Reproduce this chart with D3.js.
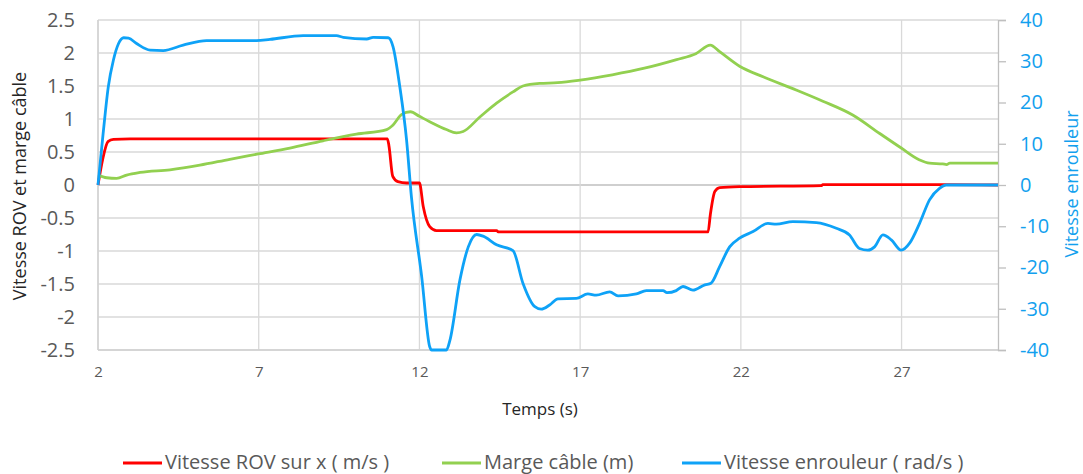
<!DOCTYPE html>
<html><head><meta charset="utf-8">
<script src="https://cdn.jsdelivr.net/npm/d3@7"></script>
<style>
body{margin:0;background:#fff;}
svg{display:block;font-family:"Open Sans",sans-serif;}
</style></head>
<body>
<svg id="c" width="1083" height="474"></svg>
<script>
// ---- data ----
const xTicks = [2, 7, 12, 17, 22, 27];
const leftTicks = [2.5, 2, 1.5, 1, 0.5, 0, -0.5, -1, -1.5, -2, -2.5];
const rightTicks = [40, 30, 20, 10, 0, -10, -20, -30, -40];
const seriesNames = ["Vitesse ROV sur x ( m/s )", "Marge câble (m)", "Vitesse enrouleur ( rad/s )"];

// Vitesse ROV sur x (m/s) : [t, v]
const vitesseROV = [
  [2,0],[2.15,0.4],[2.31,0.656],[2.48,0.69],[3,0.7],[6,0.7],[9,0.7],[11.0,0.7],[11.05,0.6],
  [11.17,0.13],[11.33,0.05],[11.6,0.03],[12.0,0.03],[12.12,-0.33],[12.32,-0.63],[12.53,-0.69],
  [14.4,-0.69],[14.45,-0.71],[17,-0.71],[20.98,-0.71],[21.05,-0.45],[21.19,-0.1],[21.34,-0.04],
  [21.96,-0.025],[24.5,-0.01],[24.55,0.005],[28.3,0.005],[30,0]
];
// Marge câble (m) : [t, m]
const margeCable = [
  [2,0.15],[2.27,0.11],[2.58,0.1],[2.89,0.15],[3.31,0.19],[4.24,0.23],[5.17,0.3],[6.1,0.39],
  [6.98,0.47],[7.97,0.56],[9.0,0.67],[10.04,0.77],[10.98,0.84],[11.18,0.91],[11.45,1.07],
  [11.72,1.11],[12.0,1.04],[12.32,0.96],[12.84,0.84],[13.15,0.79],[13.36,0.81],[13.88,1.03],
  [14.4,1.24],[14.91,1.41],[15.22,1.5],[15.74,1.54],[16.3,1.55],[17,1.59],[18,1.67],[19,1.77],
  [20,1.9],[20.6,1.99],[21.05,2.12],[21.34,2.02],[21.96,1.8],[22.69,1.64],[23.72,1.44],
  [24.55,1.27],[25.48,1.06],[26.32,0.78],[26.99,0.56],[27.56,0.38],[27.87,0.33],[28.28,0.32],
  [28.4,0.31],[28.5,0.33],[30,0.33]
];
// Vitesse enrouleur (rad/s) : [t, w]
const vitesseEnrouleur = [
  [2,0],[2.16,12.5],[2.32,23.8],[2.48,30.3],[2.64,34.3],[2.8,35.7],[2.95,35.6],[3.2,34.3],
  [3.62,32.7],[4.03,32.6],[4.65,33.9],[5.38,35],[6.93,35],[7.35,35.3],[8.38,36.2],[9.42,36.2],
  [9.63,35.8],[10.36,35.4],[10.56,35.8],[11.03,35.7],[11.18,33.5],[11.39,23.8],[11.6,10.9],
  [11.75,-2.8],[12.07,-22.2],[12.32,-39.2],[12.38,-40],[12.84,-40],[12.95,-37.6],[13.26,-23],
  [13.52,-15],[13.78,-12],[13.98,-12.4],[14.4,-14.5],[14.91,-15.9],[15.22,-23.8],[15.59,-29.5],
  [15.79,-30.1],[16.05,-29.1],[16.31,-27.6],[16.88,-27.5],[17.24,-26.4],[17.5,-26.7],
  [17.92,-25.9],[18.18,-26.9],[18.75,-26.4],[19.06,-25.6],[19.58,-25.6],[19.7,-26.1],
  [19.99,-25.6],[20.2,-24.6],[20.51,-25.5],[20.88,-24.2],[21.07,-23.8],[21.34,-19.8],
  [21.65,-15],[21.96,-12.9],[22.38,-11.3],[22.84,-9.3],[23.1,-9.5],[23.62,-8.9],[24.35,-9.1],
  [24.97,-10.5],[25.38,-12.1],[25.69,-15.4],[25.95,-15.8],[26.16,-15],[26.42,-12.1],
  [26.68,-13.3],[26.99,-15.8],[27.25,-14.1],[27.56,-9.3],[27.87,-3.6],[28.18,-0.8],[28.39,0],[30,0]
];

// ---- layout ----
const svg = d3.select("#c");
const L = 98, R = 998, T = 20, B = 350;
const x = d3.scaleLinear().domain([2, 30]).range([L, R]);
const yL = d3.scaleLinear().domain([-2.5, 2.5]).range([B, T]);
const yR = d3.scaleLinear().domain([-40, 40]).range([B, T]);
const fmt = d => String(d);

// gridlines
svg.append("g").selectAll("line").data(leftTicks).join("line")
  .attr("x1", L).attr("x2", R).attr("y1", d => yL(d)).attr("y2", d => yL(d))
  .attr("stroke", d => d === 0 ? "#bfbfbf" : "#d9d9d9").attr("stroke-width", 1.3);
svg.append("g").selectAll("line").data(xTicks).join("line")
  .attr("x1", d => x(d)).attr("x2", d => x(d)).attr("y1", T).attr("y2", B)
  .attr("stroke", "#d9d9d9").attr("stroke-width", 1.3);
// axis lines
svg.append("line").attr("x1", L).attr("x2", L).attr("y1", T).attr("y2", B).attr("stroke", "#d0d0d0").attr("stroke-width", 1.3);
svg.append("line").attr("x1", L).attr("x2", R).attr("y1", B).attr("y2", B).attr("stroke", "#d0d0d0").attr("stroke-width", 1.3);

// right axis
const rAxis = d3.axisRight(yR).tickValues(rightTicks).tickSize(8).tickPadding(14).tickFormat(fmt);
const rg = svg.append("g").attr("transform", `translate(${R},0)`).call(rAxis);
rg.select(".domain").attr("stroke", "#bfbfbf").attr("stroke-width", 1.3);
rg.selectAll(".tick line").attr("stroke", "#bfbfbf").attr("stroke-width", 1.3);
rg.selectAll(".tick text").attr("fill", "#12a0ee").attr("font-size", 20).attr("font-family", "Open Sans");

// left axis labels
const lAxis = d3.axisLeft(yL).tickValues(leftTicks).tickSize(0).tickPadding(23).tickFormat(fmt);
const lg = svg.append("g").attr("transform", `translate(${L},0)`).call(lAxis);
lg.select(".domain").remove();
lg.selectAll(".tick text").attr("fill", "#595959").attr("font-size", 20).attr("font-family", "Open Sans");

// bottom axis labels
const bAxis = d3.axisBottom(x).tickValues(xTicks).tickSize(0).tickPadding(16).tickFormat(fmt);
const bg = svg.append("g").attr("transform", `translate(0,${B})`).call(bAxis);
bg.select(".domain").remove();
bg.selectAll(".tick text").attr("fill", "#595959").attr("font-size", 15).attr("font-family", "Open Sans");

// titles
svg.append("text").attr("x", 540).attr("y", 415).attr("text-anchor", "middle")
  .attr("font-size", 17).attr("fill", "#262626").text("Temps (s)");
svg.append("text").attr("transform", "translate(26,186) rotate(-90)").attr("text-anchor", "middle")
  .attr("font-size", 18).attr("fill", "#262626").text("Vitesse ROV et marge câble");
svg.append("text").attr("transform", "translate(1078,184) rotate(-90)").attr("text-anchor", "middle")
  .attr("font-size", 18).attr("fill", "#12a0ee").text("Vitesse enrouleur");

// lines
const colors = ["#ff0000", "#92d050", "#0ea2f7"];
const lineL = d3.line().x(d => x(d[0])).y(d => yL(d[1])).curve(d3.curveMonotoneX);
const lineR = d3.line().x(d => x(d[0])).y(d => yR(d[1])).curve(d3.curveMonotoneX);
svg.append("path").attr("d", lineL(vitesseROV)).attr("fill", "none").attr("stroke", colors[0]).attr("stroke-width", 2.8).attr("stroke-linejoin", "round");
svg.append("path").attr("d", lineL(margeCable)).attr("fill", "none").attr("stroke", colors[1]).attr("stroke-width", 2.8).attr("stroke-linejoin", "round");
svg.append("path").attr("d", lineR(vitesseEnrouleur)).attr("fill", "none").attr("stroke", colors[2]).attr("stroke-width", 2.8).attr("stroke-linejoin", "round");

// legend
const legX = [123, 442, 682];
const lgd = svg.append("g");
seriesNames.forEach((n, i) => {
  lgd.append("line").attr("x1", legX[i]).attr("x2", legX[i] + 39).attr("y1", 463).attr("y2", 463)
    .attr("stroke", colors[i]).attr("stroke-width", 2.8);
  lgd.append("text").attr("x", legX[i] + 42).attr("y", 469).attr("font-size", 20)
    .attr("fill", "#595959").text(n);
});
</script>
</body></html>
